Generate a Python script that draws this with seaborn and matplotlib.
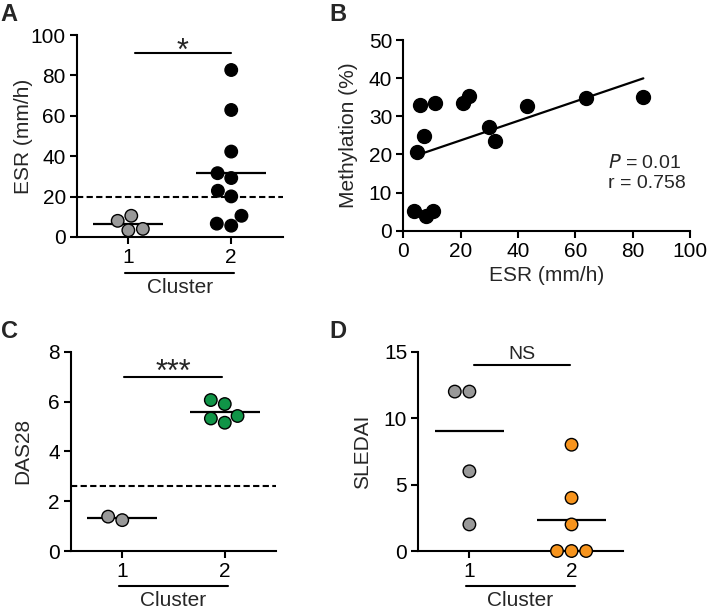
import pandas as pd
import matplotlib
matplotlib.use('Agg')
import matplotlib.pyplot as plt
import seaborn as sns

sns.set_theme(style="ticks")
plt.rcParams['font.family'] = ['Liberation Sans', 'DejaVu Sans']

# ---------------- data ----------------
# A: ESR per cluster
esr_c1 = [8.0, 3.3, 4.0, 10.5]
esr_c2 = [82.7, 62.9, 42.3, 29.2, 31.6, 22.9, 20.1, 10.5, 5.6, 6.6]
esr_lines = [6.6, 31.5]

# B: ESR vs methylation
b_esr = [3.7, 7.9, 10.2, 4.9, 7.2, 5.8, 11.0, 20.9, 23.0, 29.9, 32.0, 43.3, 63.7, 83.7]
b_meth = [5.2, 3.8, 5.2, 20.7, 24.9, 33.0, 33.6, 33.6, 35.4, 27.3, 23.6, 32.7, 34.7, 35.1]

# C: DAS28 per cluster
das_c1 = [1.24, 1.38]
das_c2 = [6.06, 5.9, 5.42, 5.15, 5.32]
das_lines = [1.31, 5.57]

# D: SLEDAI per cluster
sle_c1 = [12, 12, 6, 2]
sle_c2 = [8, 4, 2, 0, 0, 0]
sle_lines = [9.0, 2.33]

clusters = ["1", "2"]
GRAY = "#999999"
GREEN = "#109447"
ORANGE = "#f7941d"


def to_df(c1, c2, col):
    return pd.DataFrame({"cluster": ["1"] * len(c1) + ["2"] * len(c2), col: c1 + c2})


def style_axes(ax):
    sns.despine(ax=ax)
    for s in ["left", "bottom"]:
        ax.spines[s].set_linewidth(1.5)
        ax.spines[s].set_color("black")
    ax.tick_params(axis="both", length=5, width=1.5, labelsize=15, colors="black", pad=3)


def cluster_panel(ax, df, col, palette, lines, ylim, yticks, ylabel, label_x,
                  thresh=None, sig=None, line_y=-0.176, text_y=-0.25):
    sns.swarmplot(data=df, x="cluster", y=col, hue="cluster", order=clusters,
                  palette=palette, size=9, edgecolor="black", linewidth=1,
                  legend=False, ax=ax, zorder=3)
    for c in ax.collections:
        c.set_clip_on(False)
    for i, v in enumerate(lines):
        ax.hlines(v, i - 0.34, i + 0.34, color="black", lw=1.6, zorder=2)
    if thresh is not None:
        ax.axhline(thresh, color="black", lw=1.5, ls=(0, (3, 1.6)), zorder=1)
    if sig is not None:
        y, txt, x0, x1, size, off = sig
        ax.plot([x0, x1], [y, y], color="black", lw=1.5, clip_on=False)
        ax.annotate(txt, ((x0 + x1) / 2, y), xytext=(0, off), textcoords="offset points",
                    ha="center", va="baseline", fontsize=size, annotation_clip=False)
    ax.set_xlim(-0.5, 1.5)
    ax.set_ylim(*ylim)
    ax.set_yticks(yticks)
    ax.set_xlabel("")
    ax.set_ylabel(ylabel, fontsize=15)
    ax.yaxis.set_label_coords(label_x, 0.5)
    style_axes(ax)
    tr = ax.get_xaxis_transform()
    ax.plot([-0.03, 1.03], [line_y, line_y], color="black", lw=1.5,
            transform=tr, clip_on=False)
    ax.text(0.5, text_y, "Cluster", transform=tr, ha="center", va="center", fontsize=15)


fig = plt.figure(figsize=(7.12, 6.10), dpi=100)
axA = fig.add_axes([0.108, 0.6115, 0.289, 0.331])
axB = fig.add_axes([0.5665, 0.6218, 0.4027, 0.3126])
axC = fig.add_axes([0.0997, 0.0967, 0.288, 0.3267])
axD = fig.add_axes([0.5875, 0.0967, 0.287, 0.3267])

# A
cluster_panel(axA, to_df(esr_c1, esr_c2, "ESR"), "ESR", {"1": GRAY, "2": "black"},
              esr_lines, (0, 100), range(0, 101, 20), "ESR (mm/h)", -0.214,
              thresh=20, sig=(91.3, "*", 0.06, 1.0, 22, -5))

# B
sns.regplot(x=b_esr, y=b_meth, ci=None, truncate=True, ax=axB,
            scatter_kws={"s": 100, "color": "black", "edgecolor": "black",
                         "alpha": 1, "clip_on": False},
            line_kws={"color": "black", "lw": 1.6})
axB.set_xlim(0, 100)
axB.set_ylim(0, 50)
axB.set_xticks(range(0, 101, 20))
axB.set_yticks(range(0, 51, 10))
axB.set_xlabel("ESR (mm/h)", fontsize=15)
axB.set_ylabel("Methylation (%)", fontsize=15)
axB.yaxis.set_label_coords(-0.158, 0.5)
style_axes(axB)
axB.text(71.5, 17.7, "$P$ = 0.01", fontsize=14, ha="left", va="center")
axB.text(71.5, 12.5, "r = 0.758", fontsize=14, ha="left", va="center")

# C
cluster_panel(axC, to_df(das_c1, das_c2, "DAS28"), "DAS28", {"1": GRAY, "2": GREEN},
              das_lines, (0, 8), range(0, 9, 2), "DAS28", -0.19,
              thresh=2.6, sig=(7.0, "***", 0.02, 0.97, 22, -3))

# D
cluster_panel(axD, to_df(sle_c1, sle_c2, "SLEDAI"), "SLEDAI", {"1": GRAY, "2": ORANGE},
              sle_lines, (0, 15), range(0, 16, 5), "SLEDAI", -0.227,
              sig=(14.0, "NS", 0.05, 0.98, 14, 4))

for lbl, x, y in [("A", 0.001, 0.995), ("B", 0.463, 0.995), ("C", 0.002, 0.475), ("D", 0.463, 0.475)]:
    fig.text(x, y, lbl, fontsize=17, fontweight="bold", ha="left", va="top")

plt.savefig("out.png", dpi=100)
plt.close()
